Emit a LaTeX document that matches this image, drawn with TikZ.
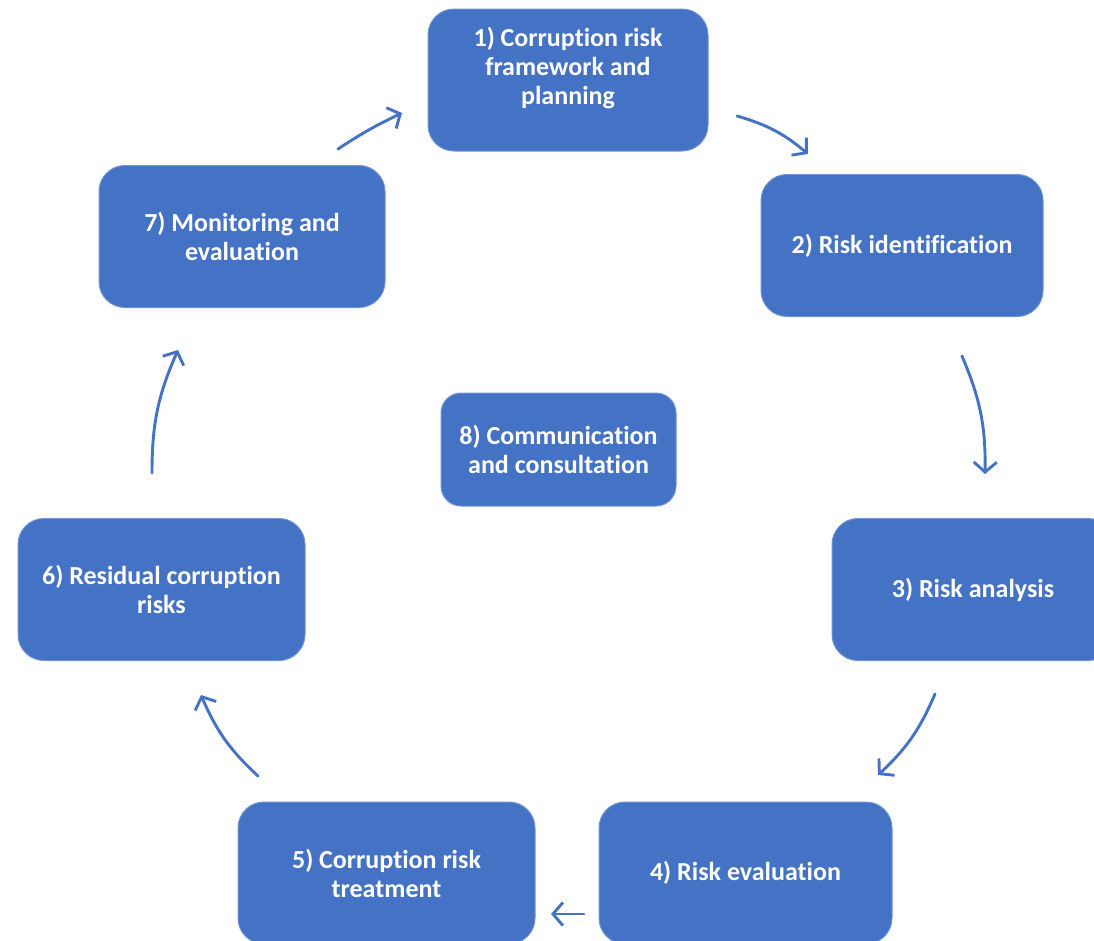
\documentclass[tikz,border=0pt]{standalone}
\usepackage{fontspec}
\setmainfont{Carlito}[Ligatures=NoCommon]
\usetikzlibrary{arrows.meta}
\definecolor{stageblue}{HTML}{4472C4}
\definecolor{stageedge}{HTML}{6F94D6}

\begin{document}
\begin{tikzpicture}[x=1pt,y=-1pt,
  stagebox/.style={draw=stageedge,line width=1pt,fill=stageblue,rounded corners=26pt,
    text=white,font=\bfseries\fontsize{26}{29}\selectfont,align=center,
    minimum height=142pt,inner sep=0pt},
  cyclearrow/.style={draw=stageblue,line width=2.9pt,line cap=round,
    -{Straight Barb[length=10pt,width=23pt]}}]
\useasboundingbox (0,0) rectangle (1094,940);
\clip (0,0) rectangle (1094,940);
%%%%%%%%%%%%%%%%%%%% the seven stages %%%%%%%%%%%%%%%%%%%%
\node[stagebox,minimum width=280pt] (s1) at (568,80) {1) Corruption risk\\framework and\\planning\\\mbox{}};
\node[stagebox,minimum width=282pt] (s2) at (902,245.5) {2) Risk identification};
\node[stagebox,minimum width=282pt] (s3) at (973,589.5) {3) Risk analysis};
\node[stagebox,minimum width=293pt] (s4) at (745.5,873) {4) Risk evaluation};
\node[stagebox,minimum width=297pt] (s5) at (386.5,873) {5) Corruption risk\\treatment};
\node[stagebox,minimum width=287pt] (s6) at (161.5,589.5) {6) Residual corruption\\risks};
\node[stagebox,minimum width=286pt] (s7) at (242,236.5) {7) Monitoring and\\evaluation};
%%%%%%%%%%%%%%%%%%%% the centre %%%%%%%%%%%%%%%%%%%%
\node[stagebox,minimum width=235pt,minimum height=113pt,rounded corners=20pt] (s8) at (558.5,449.5) {8) Communication\\and consultation};
%%%%%%%%%%%%%%%%%%%% the cycle arrows %%%%%%%%%%%%%%%%%%%%
\coordinate (a1s) at (737,116); \coordinate (a1e) at (808,154);
\coordinate (a2s) at (962,356); \coordinate (a2e) at (985,474);
\coordinate (a3s) at (935,694); \coordinate (a3e) at (878,775);
\coordinate (a4s) at (584,914); \coordinate (a4e) at (551,914);
\coordinate (a5s) at (258,776); \coordinate (a5e) at (201,695);
\coordinate (a6s) at (152,473); \coordinate (a6e) at (178,350);
\coordinate (a7s) at (338,149); \coordinate (a7e) at (402,113);
\draw[cyclearrow] (a1s) to[bend left=12] (a1e);
\draw[cyclearrow] (a2s) to[bend left=12] (a2e);
\draw[cyclearrow] (a3s) to[bend left=12] (a3e);
\draw[cyclearrow] (a4s) -- (a4e);
\draw[cyclearrow] (a5s) to[bend left=12] (a5e);
\draw[cyclearrow] (a6s) to[bend left=12] (a6e);
\draw[cyclearrow] (a7s) to[bend left=4] (a7e);
\end{tikzpicture}
\end{document}
